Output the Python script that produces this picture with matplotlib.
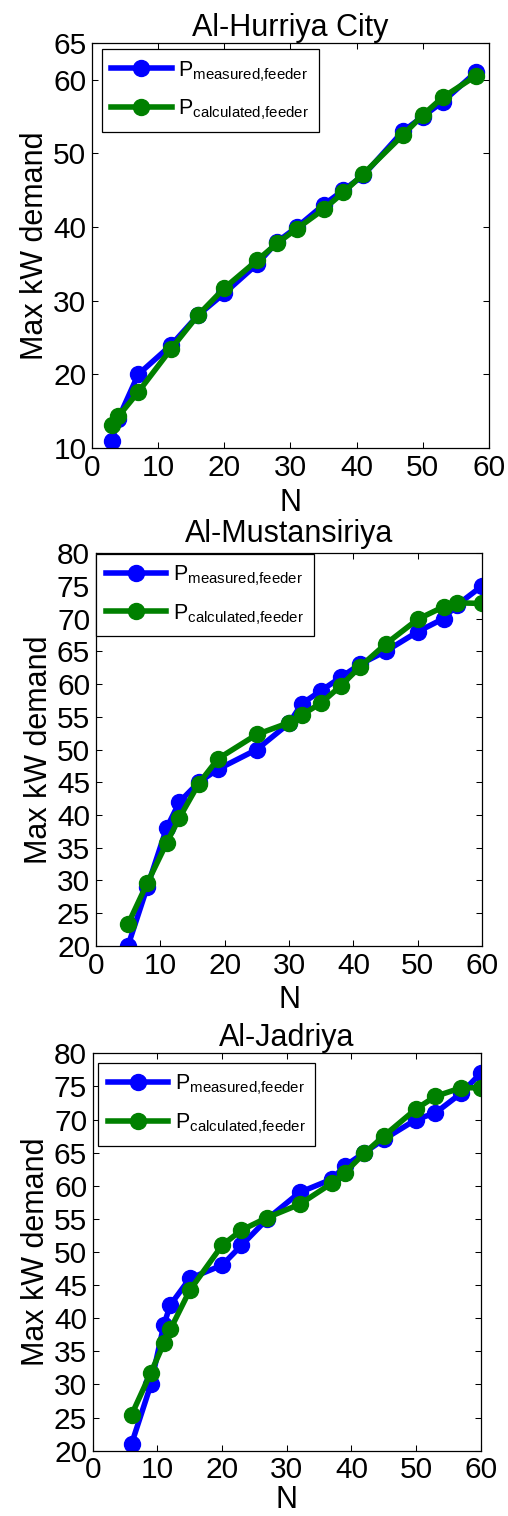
import numpy as np
import matplotlib
matplotlib.use("Agg")
import matplotlib.pyplot as plt

plt.rcParams['font.family'] = ['Liberation Sans', 'DejaVu Sans']
plt.rcParams['mathtext.fontset'] = 'custom'
plt.rcParams['mathtext.rm'] = 'Liberation Sans'
plt.rcParams['mathtext.it'] = 'Liberation Sans'

# ── Data ──────────────────────────────────────────────────────────────────
titles = ["Al-Hurriya City", "Al-Mustansiriya", "Al-Jadriya"]

n_hurriya = [3, 4, 7, 12, 16, 20, 25, 28, 31, 35, 38, 41, 47, 50, 53, 58]
meas_hurriya = [11, 14, 20, 24, 28, 31, 35, 38, 40, 43, 45, 47, 53, 55, 57, 61]
calc_hurriya = [13.1, 14.3, 17.6, 23.5, 28, 31.7, 35.5, 37.8, 39.8, 42.4,
                44.7, 47.2, 52.5, 55.2, 57.6, 60.5]

n_mustan = [5, 8, 11, 13, 16, 19, 25, 30, 32, 35, 38, 41, 45, 50, 54, 56, 60]
meas_mustan = [20, 29, 38, 42, 45, 47, 50, 54, 57, 59, 61, 63, 65, 68, 70, 72, 75]
calc_mustan = [23.3, 29.6, 35.7, 39.6, 44.8, 48.6, 52.3, 54.1, 55.3, 57.1,
               59.7, 62.6, 66.1, 69.9, 71.8, 72.4, 72.3]

n_jadriya = [6, 9, 11, 12, 15, 20, 23, 27, 32, 37, 39, 42, 45, 50, 53, 57, 60]
meas_jadriya = [21, 30, 39, 42, 46, 48, 51, 55, 59, 61, 63, 65, 67, 70, 71, 74, 77]
calc_jadriya = [25.4, 31.8, 36.2, 38.3, 44.2, 51, 53.3, 55.2, 57.2, 60.4,
                62.0, 64.9, 67.5, 71.6, 73.5, 74.8, 74.8]

xticks = [0, 10, 20, 30, 40, 50, 60]
yticks_hurriya = [10, 20, 30, 40, 50, 60, 65]
yticks_other = list(range(20, 81, 5))

# ── Layout (figure fractions) ──────────────────────────────────────────────
fig = plt.figure(figsize=(5.08, 15.16), dpi=100)
rects = [[0.181, 0.7045, 0.7815, 0.2672],
         [0.1884, 0.376, 0.761, 0.2592],
         [0.1825, 0.0431, 0.7638, 0.2621]]
leg_anchor = [(0.0244, 0.984), (0.002, 0.998), (0.0144, 0.975)]
title_pad = [5, 8, 5]
xlabel_pad = [5, 4, 0.5]

panels = [(n_hurriya, meas_hurriya, calc_hurriya, (10, 65), yticks_hurriya),
          (n_mustan, meas_mustan, calc_mustan, (20, 80), yticks_other),
          (n_jadriya, meas_jadriya, calc_jadriya, (20, 80), yticks_other)]

for i, (n, meas, calc, ylim, yt) in enumerate(panels):
    ax = fig.add_axes(rects[i])
    ax.plot(n, meas, color=(0, 0, 1), lw=4, marker="o", ms=11.5,
            label=r"P$_{\mathrm{measured{,}feeder}}$")
    ax.plot(n, calc, color=(0, 0.5, 0), lw=4, marker="o", ms=11.5,
            label=r"P$_{\mathrm{calculated{,}feeder}}$")
    ax.set_xlim(0, 60)
    ax.set_ylim(*ylim)
    ax.set_xticks(xticks)
    ax.set_yticks(yt)
    ax.tick_params(direction="in", top=True, right=True, length=4,
                   width=0.75, labelsize=21.5, pad=4)
    for s in ax.spines.values():
        s.set_linewidth(0.9)
    ax.set_title(titles[i], fontsize=22, pad=title_pad[i])
    ax.set_xlabel("N", fontsize=22, labelpad=xlabel_pad[i])
    ax.set_ylabel("Max kW demand", fontsize=22, labelpad=2)
    leg = ax.legend(loc="upper left", bbox_to_anchor=leg_anchor[i],
                    borderaxespad=0, fontsize=15.5, handlelength=2.8,
                    fancybox=False, framealpha=1, edgecolor="black",
                    labelspacing=0.65, handletextpad=0.3, borderpad=0.45)
    leg.get_frame().set_linewidth(0.9)

fig.savefig("out.png", dpi=100)
